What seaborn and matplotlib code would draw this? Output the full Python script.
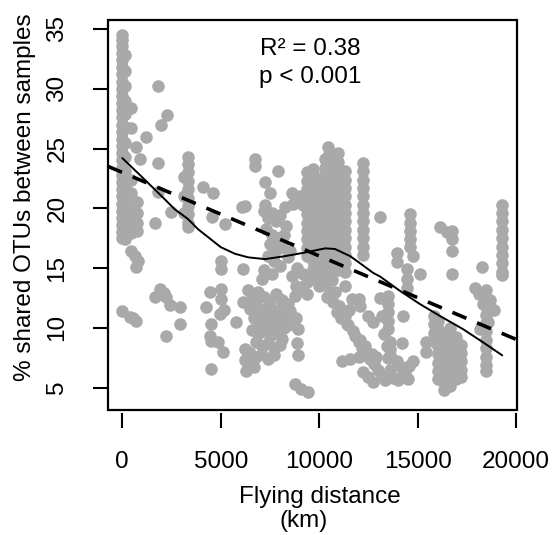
import numpy as np
import pandas as pd
import matplotlib
matplotlib.use("Agg")
import matplotlib.pyplot as plt
import seaborn as sns
from matplotlib.patches import Rectangle

sns.set_theme(style="white")
plt.rcParams["font.family"] = ["Liberation Sans", "DejaVu Sans"]

# ---------------- data ----------------
# stacks of sample pairs sharing (nearly) the same flying distance
stack_x = [0, 150, 450, 750, 3150, 3340, 6730,
           9400, 9700, 10000, 10300, 10450, 10650, 10960, 11300, 12230,
           13490, 14450, 14620, 18450, 19290,
           15850, 16050, 16350, 16650, 16950, 17200]
stack_y = [
    [34.5, 34.1, 33.6, 33.0, 32.4, 31.8, 31.2, 30.6, 30.0, 29.4, 28.8, 28.2, 27.6, 27.0,
     26.4, 25.8, 25.2, 24.6, 24.0, 23.4, 22.8, 22.2, 21.6, 21.0, 20.4, 19.8, 19.2, 18.6, 18.0, 17.5],
    [32.8, 31.5, 30.2, 29.0, 27.9, 26.8, 25.5, 24.3, 23.1, 22.0, 20.9, 19.9, 18.9, 18.0, 17.4],
    [22.4, 21.3, 20.2, 19.4, 18.6, 17.9],
    [20.5, 19.6, 18.8, 18.1],
    [22.6, 21.0, 19.6],
    [24.3, 23.7, 23.0, 22.3, 21.6, 20.9, 20.2, 19.5, 18.8, 18.4],
    [24.1, 23.5],
    [23.0, 22.3, 21.6, 20.9, 20.2, 19.5, 18.8, 18.1, 17.4, 16.7, 16.0],
    [23.25, 22.6, 21.9, 21.2, 20.5, 19.8, 19.1, 18.4, 17.7, 17.0, 16.3, 15.6, 14.9, 14.2],
    [22.5, 21.8, 21.1, 20.4, 19.7, 19.0, 18.3, 17.6, 16.9, 16.2, 15.5, 14.8, 14.1, 13.5],
    [24.1, 23.4, 22.7, 22.0, 21.3, 20.6, 19.9, 19.2, 18.5, 17.8, 17.1, 16.4, 15.7, 15.0, 14.3, 13.6],
    [25.1, 24.4],
    [23.8, 23.1, 22.4, 21.7, 21.0, 20.3, 19.6, 18.9, 18.2, 17.5, 16.8, 16.1, 15.4, 14.7, 14.0],
    [24.6, 23.9, 23.2, 22.5, 21.8, 21.1, 20.4, 19.7, 19.0, 18.3, 17.6, 16.9, 16.2, 15.5, 14.8],
    [23.1, 22.4, 21.7, 21.0, 20.3, 19.6, 18.9, 18.2, 17.5, 16.8, 16.1, 15.4, 14.7],
    [23.8, 23.1, 22.4, 21.7, 21.0, 20.3, 19.6, 18.9, 18.2, 17.5, 16.8, 16.1],
    [12.7, 12.0, 11.3, 10.6, 9.9],
    [14.9, 14.1, 13.3],
    [19.5, 18.8, 18.1, 17.4, 16.8],
    [13.2, 12.5, 11.8, 11.1, 10.4, 9.7, 9.0, 8.3, 7.6, 6.9, 6.4],
    [20.3, 19.6, 18.9, 18.2, 17.5, 16.8, 16.1, 15.4, 14.7, 14.4],
    [11.0, 10.3, 9.6, 8.9],
    [10.6, 9.9, 9.2, 8.5, 7.8, 7.1, 6.4, 5.7],
    [9.6, 8.9, 8.2, 7.5, 6.8, 6.1, 5.4, 4.8],
    [10.0, 9.3, 8.6, 7.9, 7.2, 6.5, 5.8, 5.1],
    [9.2, 8.5, 7.8, 7.1, 6.4, 5.7],
    [8.6, 7.9, 7.2, 6.5, 5.9],
]

# individual sample pairs, by region of the plot
pts_near_origin = [(440, 28.4), (440, 26.75), (700, 25.1), (900, 24.1), (1200, 26.0),
                   (1820, 30.2), (2270, 27.8), (1960, 27.0), (1820, 23.8), (1820, 21.4),
                   (1670, 18.8), (2480, 19.7), (440, 16.4), (650, 16.0), (800, 15.6),
                   (700, 15.1), (4100, 21.75), (4600, 21.3), (6100, 20.1), (5210, 18.7),
                   (4550, 19.25)]
pts_lower_left = [(1920, 13.25), (1670, 12.6), (2230, 12.6), (2100, 12.9), (2400, 11.9),
                  (2940, 11.75), (0, 11.4), (390, 10.9), (700, 10.6), (550, 10.8),
                  (2940, 10.3), (2230, 9.3), (5000, 15.6), (5000, 14.9), (6140, 14.9),
                  (4450, 13.0), (5000, 13.25), (5000, 12.4), (4250, 11.75), (4960, 11.2),
                  (5150, 11.5), (4500, 10.3), (5780, 10.5), (4450, 9.3), (4500, 8.9),
                  (4880, 8.8), (5120, 8.0), (4500, 6.6), (6140, 12.2)]
pts_mid_upper = [(7900, 23.1), (7250, 22.2), (7500, 21.3), (8630, 21.3), (9030, 21.0),
                 (8270, 20.1), (7250, 20.3), (6240, 20.2), (8680, 20.4), (9200, 20.3),
                 (7200, 19.8), (7400, 19.2), (7600, 19.6), (7800, 18.9), (8000, 19.4),
                 (8300, 18.5), (7300, 18.3), (7600, 17.8), (7900, 17.5), (8200, 17.8),
                 (7500, 17.0), (7800, 16.5), (8100, 16.8), (7400, 16.0), (7700, 15.6),
                 (8400, 15.9), (8000, 15.2), (7200, 14.8), (7600, 14.5), (8600, 14.3),
                 (8800, 13.5), (8780, 12.7), (7100, 14.1), (8500, 16.4), (8900, 15.0),
                 (9200, 14.5), (9400, 13.8), (9000, 13.3), (9400, 12.8)]
pts_mid_lower = [(6400, 13.2), (6600, 12.5), (6900, 13.0), (7200, 12.6), (7500, 12.2),
                 (7800, 12.8), (8100, 12.3), (8400, 12.0), (6500, 11.6), (6800, 11.9),
                 (7000, 11.3), (7300, 11.6), (7600, 11.1), (7900, 11.5), (8200, 11.0),
                 (8500, 11.4), (6700, 10.8), (7000, 10.4), (7300, 10.7), (7600, 10.2),
                 (7900, 10.5), (8200, 10.0), (6600, 9.8), (6900, 9.5), (7200, 9.8),
                 (7500, 9.3), (7800, 9.6), (8100, 9.1), (6800, 8.8), (7100, 8.5),
                 (7400, 8.7), (7700, 8.3), (8000, 8.6), (6500, 7.9), (6800, 7.6),
                 (7100, 7.8), (7400, 7.4), (7700, 7.7), (6400, 7.0), (6700, 6.7),
                 (6300, 6.4), (6240, 8.2), (6240, 7.3), (8430, 10.2), (8940, 9.9),
                 (8880, 8.7), (8940, 7.7), (8800, 10.8), (8770, 5.3), (9100, 4.9),
                 (9440, 4.6)]
pts_right = [(10100, 13.9), (10400, 12.6), (10600, 12.9), (10800, 13.0), (10700, 12.2),
             (10900, 11.3), (11000, 11.8), (11100, 10.8), (11300, 11.0), (11400, 10.3),
             (11470, 10.2), (11720, 9.7), (11300, 13.5), (11670, 12.4), (11500, 11.5),
             (12000, 12.4), (12100, 11.8), (12490, 11.0), (12740, 10.5), (11160, 7.25),
             (11570, 7.4), (11830, 9.3), (12000, 8.8), (12200, 8.3), (12400, 7.9),
             (12600, 7.4), (12800, 7.0), (13000, 6.5), (13200, 6.0), (13340, 5.6),
             (12100, 9.0), (12350, 8.5), (12700, 7.8), (12230, 6.3), (12500, 5.9),
             (12740, 5.5), (12000, 7.6), (12900, 7.6), (13100, 19.3), (13940, 16.3),
             (13940, 15.5), (14750, 16.0), (15110, 14.5), (13100, 12.5), (13200, 11.0),
             (13300, 9.5), (14250, 11.0), (14200, 8.7), (13590, 8.8), (13590, 8.2),
             (13590, 7.7), (13940, 7.2), (14150, 6.7), (14350, 6.3), (14550, 6.8),
             (14750, 7.2), (14200, 6.0), (14000, 5.6), (14500, 5.7), (13440, 8.5),
             (13500, 7.5), (13600, 6.5), (13750, 5.8), (15450, 8.8), (15450, 8.0),
             (16130, 18.4), (16500, 18.0), (16740, 18.1), (16740, 17.4), (16740, 16.4),
             (16740, 14.5), (18270, 15.1), (17900, 13.3), (18100, 12.8), (18300, 12.0),
             (18900, 11.5), (18700, 12.3), (18170, 9.9), (18600, 10.5)]

# loess smoother (solid)
smooth_x = [0, 950, 1820, 2680, 3340, 3850, 4350, 5000, 5720, 6390, 7250, 8270, 9280,
            10300, 10800, 11570, 12000, 12740, 13090, 14100, 15110, 16130, 17300, 18320, 19300]
smooth_y = [24.2, 22.7, 21.3, 19.9, 19.1, 18.25, 17.6, 16.75, 16.2, 15.9, 15.75, 16.0, 16.3,
            16.65, 16.6, 16.0, 15.5, 14.6, 14.3, 13.1, 12.0, 11.0, 9.9, 8.8, 7.7]

# linear regression (dashed)
reg_intercept = 23.0
reg_slope = -0.000698

x_ticks = [0, 5000, 10000, 15000, 20000]
y_ticks = [5, 10, 15, 20, 25, 30, 35]
stat_lines = ["R\u00b2 = 0.38", "p < 0.001"]

# ---------------- build table ----------------
rows = []
for x, ys in zip(stack_x, stack_y):
    for y in ys:
        rows.append((x, y))
for grp in (pts_near_origin, pts_lower_left, pts_mid_upper, pts_mid_lower, pts_right):
    rows.extend(grp)
df = pd.DataFrame(rows, columns=["dist", "shared"])

# ---------------- plot ----------------
fig = plt.figure(figsize=(5.55, 5.35), dpi=100)
ax = fig.add_axes([108 / 555, 125 / 535, 409 / 555, 390 / 535])

sns.scatterplot(data=df, x="dist", y="shared", color="#A9A9A9", s=82,
                linewidth=0, alpha=1, ax=ax, zorder=2, legend=False)
ax.axline((0, reg_intercept), slope=reg_slope, color="black", lw=2.6,
          dashes=(4.2, 3.2), zorder=3)
sns.lineplot(x=smooth_x, y=smooth_y, color="black", lw=1.4, ax=ax, zorder=4,
             sort=False, estimator=None)

ax.set_xlim(-726, 20050)
ax.set_ylim(3.13, 35.75)
ax.set_xticks(x_ticks)
ax.set_yticks(y_ticks)
ax.set_xticklabels([str(v) for v in x_ticks])
ax.set_yticklabels([str(v) for v in y_ticks])

for s in ax.spines.values():
    s.set_visible(False)
ax.spines["bottom"].set_position(("outward", 2.2))
ax.add_patch(Rectangle((0, 0), 1, 1, transform=ax.transAxes, fill=False,
                       lw=1.6, ec="black", clip_on=False, zorder=6))

ax.tick_params(axis="both", which="major", direction="out", length=10.5, width=1.5,
               color="black", labelsize=17.5, labelcolor="black",
               bottom=True, left=True)
ax.tick_params(axis="x", pad=17)
ax.tick_params(axis="y", pad=18, labelrotation=90)
for lab in ax.get_yticklabels():
    lab.set_va("center")

ax.set_xlabel("Flying distance", fontsize=17.5, color="black")
ax.xaxis.set_label_coords(0.518, -0.196)
ax.text(0.479, -0.284, "(km)", transform=ax.transAxes, ha="center", va="center",
        fontsize=17.5, color="black")
ax.set_ylabel("% shared OTUs between samples", fontsize=17.5, color="black")
ax.yaxis.set_label_coords(-0.175, 0.545)

ax.text(9530, 32.83, stat_lines[0], ha="center", va="baseline", fontsize=17.5, color="black")
ax.text(9530, 30.5, stat_lines[1], ha="center", va="baseline", fontsize=17.5, color="black")

ax.grid(False)
fig.savefig("out.png", dpi=100, facecolor="white")
